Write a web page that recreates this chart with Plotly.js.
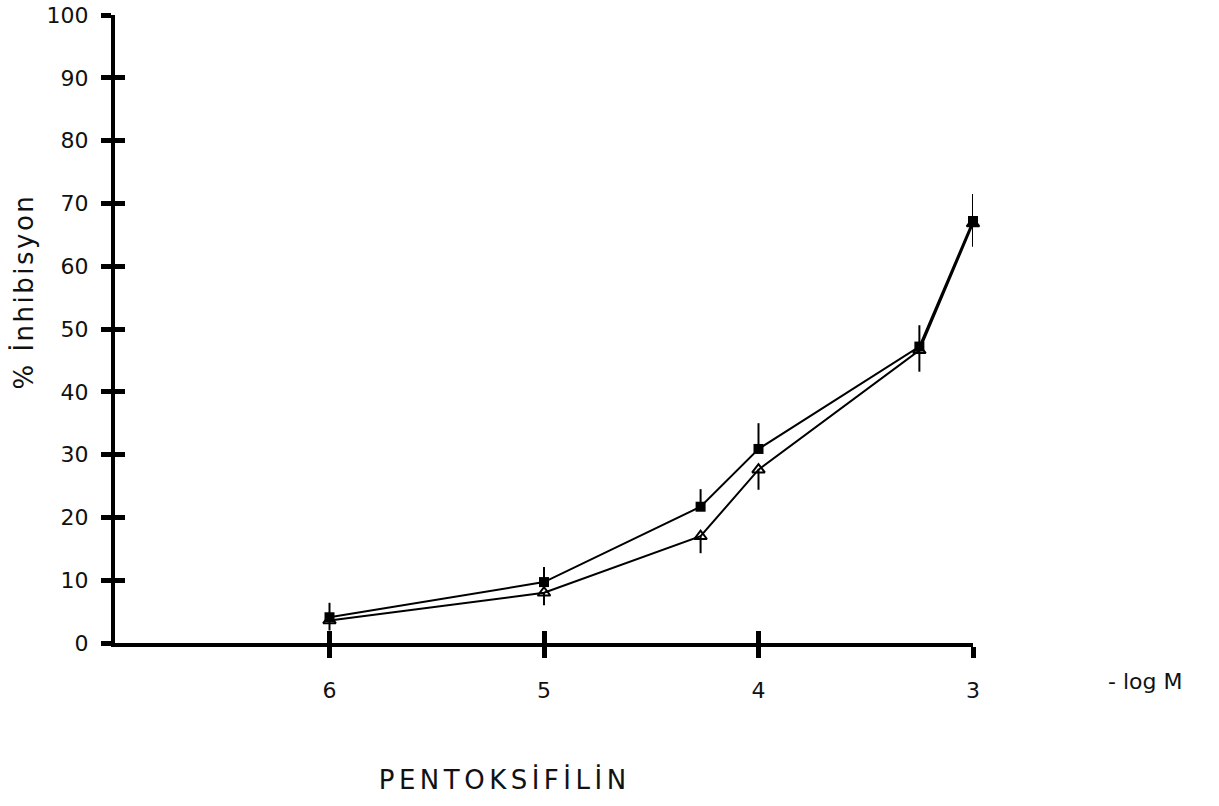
<!DOCTYPE html>
<html>
<head>
<meta charset="utf-8">
<script src="https://cdn.plot.ly/plotly-3.0.1.min.js"></script>
<style>html,body{margin:0;padding:0;background:#fff;}#chart{width:1219px;height:806px;}</style>
</head>
<body>
<div id="chart"></div>
<script>
// -log M concentrations
const logM = [6, 5, 4.27, 4, 3.25, 3];
// filled squares series (% inhibition) and upper error
const filledVals = [4.1, 9.7, 21.7, 30.9, 47.2, 67.2];
const filledErr = [2.3, 2.4, 2.8, 4.1, 3.4, 4.3];
// open triangles series (% inhibition) and lower error
const openVals = [3.6, 8.0, 17.0, 27.6, 46.6, 66.8];
const openErr = [1.6, 2.0, 2.7, 3.2, 3.4, 3.7];
const xTicks = [6, 5, 4, 3];
const xTickText = ['6', '5', '4', '3'];
const yTicks = [0, 10, 20, 30, 40, 50, 60, 70, 80, 90, 100];

const font = 'DejaVu Sans, Liberation Sans, Arial, sans-serif';
const zeros = logM.map(() => 0);

const traces = [
  {
    x: logM, y: openVals, type: 'scatter', mode: 'lines+markers',
    line: {color: '#000', width: 2},
    marker: {symbol: 'triangle-up-open', size: 11, color: '#000', line: {width: 2, color: '#000'}},
    error_y: {type: 'data', symmetric: false, array: zeros, arrayminus: openErr, color: '#000', thickness: 2, width: 0},
    cliponaxis: false, showlegend: false
  },
  {
    x: logM, y: filledVals, type: 'scatter', mode: 'lines+markers',
    line: {color: '#000', width: 2},
    marker: {symbol: 'square', size: 10, color: '#000'},
    error_y: {type: 'data', symmetric: false, array: filledErr, arrayminus: zeros, color: '#000', thickness: 2, width: 0},
    cliponaxis: false, showlegend: false
  }
];

const layout = {
  width: 1219, height: 806,
  margin: {l: 115, r: 246, t: 15, b: 163},
  paper_bgcolor: '#fff', plot_bgcolor: '#fff',
  font: {family: font, color: '#111', size: 22},
  title: {
    text: '<span style="letter-spacing:4.5px">PENTOKSİFİLİN</span>',
    font: {family: font, size: 26, color: '#111'},
    xref: 'container', yref: 'container', x: 0.414, y: 0.032,
    xanchor: 'center', yanchor: 'middle'
  },
  xaxis: {
    range: [7, 3], showgrid: false, zeroline: false,
    showline: true, linewidth: 4, linecolor: '#000',
    tickmode: 'array', tickvals: xTicks, ticktext: xTickText,
    ticks: 'outside', ticklen: 11, tickwidth: 5, tickcolor: '#000',
    ticklabelstandoff: 14,
    tickfont: {family: font, size: 22, color: '#111'}
  },
  xaxis2: {
    overlaying: 'x', range: [7, 3], showgrid: false, zeroline: false,
    showline: false, tickmode: 'array', tickvals: xTicks,
    ticks: 'inside', ticklen: 12, tickwidth: 5, tickcolor: '#000', showticklabels: false
  },
  yaxis: {
    range: [0, 100], showgrid: false, zeroline: false,
    showline: true, linewidth: 4, linecolor: '#000',
    tickmode: 'array', tickvals: yTicks,
    ticks: 'outside', ticklen: 10, tickwidth: 5, tickcolor: '#000',
    ticklabelstandoff: 8,
    tickfont: {family: font, size: 22, color: '#111'}
  },
  yaxis2: {
    overlaying: 'y', range: [0, 100], showgrid: false, zeroline: false,
    showline: false, tickmode: 'array', tickvals: yTicks,
    ticks: 'inside', ticklen: 10, tickwidth: 5, tickcolor: '#000', showticklabels: false
  },
  annotations: [
    {text: '<span style="letter-spacing:2.5px">% İnhibisyon</span>', xref: 'paper', yref: 'paper',
     x: -0.107, y: 0.56, textangle: -90, xanchor: 'center', yanchor: 'middle', showarrow: false,
     font: {family: font, size: 26, color: '#111'}},
    {text: '- log M', xref: 'paper', yref: 'paper', x: 1.200, y: -0.061,
     xanchor: 'center', yanchor: 'middle', showarrow: false,
     font: {family: font, size: 22, color: '#111'}}
  ]
};

// invisible trace so the overlay axes (double-sided ticks) are drawn
traces.push({x: [7], y: [0], xaxis: 'x2', yaxis: 'y2', mode: 'markers', marker: {opacity: 0}, hoverinfo: 'skip', showlegend: false});

Plotly.newPlot('chart', traces, layout, {displayModeBar: false, staticPlot: true});
</script>
</body>
</html>
